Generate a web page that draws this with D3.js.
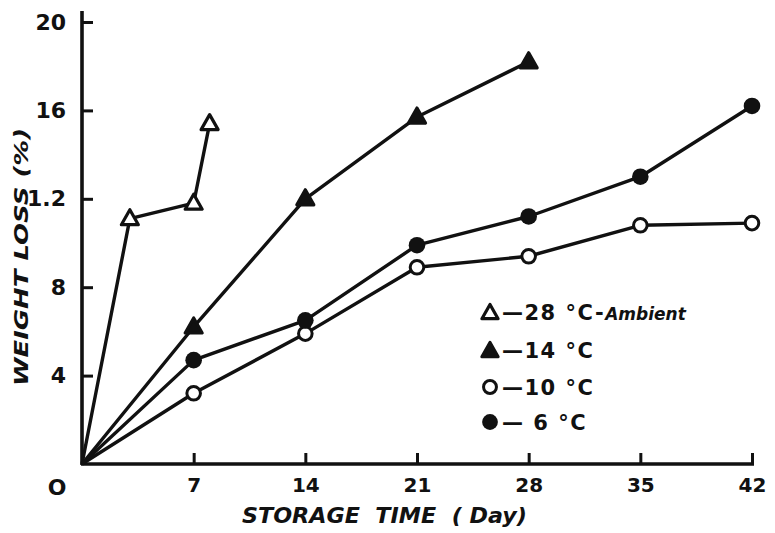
<!DOCTYPE html>
<html>
<head>
<meta charset="utf-8">
<script src="https://cdn.jsdelivr.net/npm/d3@7"></script>
<style>
  html, body { margin: 0; padding: 0; background: #fff; }
  svg { display: block; }
  text { font-family: "DejaVu Sans", sans-serif; font-weight: bold; fill: #111; }
</style>
</head>
<body>
<svg id="chart" width="775" height="533"></svg>
<script>
// Storage time (days) and weight loss (%) for each storage temperature
const daysAmbient = [0, 3, 7, 8];
const lossAmbient = [0, 11.1, 11.8, 15.4];

const days14 = [0, 7, 14, 21, 28];
const loss14 = [0, 6.2, 12.0, 15.7, 18.2];

const days10 = [0, 7, 14, 21, 28, 35, 42];
const loss10 = [0, 3.2, 5.9, 8.9, 9.4, 10.8, 10.9];

const days6 = [0, 7, 14, 21, 28, 35, 42];
const loss6 = [0, 4.7, 6.5, 9.9, 11.2, 13.0, 16.2];

const xTickValues = [7, 14, 21, 28, 35, 42];
const xTickLabels = ["7", "14", "21", "28", "35", "42"];
const yTickValues = [4, 8, 12, 16, 20];
const yTickLabels = ["4", "8", "1.2", "16", "20"];
const originLabel = "O";

const legendMarkers = ["openTri", "fillTri", "openCirc", "fillCirc"];
const legendLabels = ["\u201428 \u00b0C-", "\u201414 \u00b0C", "\u201410 \u00b0C", "\u2014 6 \u00b0C"];
const legendSuffix = ["Ambient", "", "", ""];

const xTitle = "STORAGE  TIME  ( Day)";
const yTitle = "WEIGHT LOSS (%)";

const svg = d3.select("#chart");
const ink = "#111";

const x = d3.scaleLinear().domain([0, 42]).range([82, 752]);
const y = d3.scaleLinear().domain([0, 20]).range([464, 22]);

// Axes: ticks point into the plot
const yAxis = d3.axisLeft(y)
  .tickValues(yTickValues)
  .tickFormat((d, i) => yTickLabels[i])
  .tickSizeInner(-11)
  .tickSizeOuter(0)
  .tickPadding(16);

const yG = svg.append("g").attr("transform", `translate(${x(0)},0)`).call(yAxis);
yG.select(".domain").remove();
yG.selectAll(".tick line").attr("stroke", ink).attr("stroke-width", 3);
yG.selectAll(".tick text")
  .style("font-family", "'DejaVu Sans', sans-serif")
  .style("font-weight", "bold")
  .style("font-size", "22px")
  .attr("fill", ink);

const xAxis = d3.axisBottom(x)
  .tickValues(xTickValues)
  .tickFormat((d, i) => xTickLabels[i])
  .tickSizeInner(-11)
  .tickSizeOuter(0)
  .tickPadding(14);

const xG = svg.append("g").attr("transform", `translate(0,${y(0)})`).call(xAxis);
xG.select(".domain").remove();
xG.selectAll(".tick line").attr("stroke", ink).attr("stroke-width", 3);
xG.selectAll(".tick text")
  .style("font-family", "'DejaVu Sans', sans-serif")
  .style("font-weight", "bold")
  .style("font-size", "20px")
  .attr("fill", ink);

// Axis lines
svg.append("line")
  .attr("x1", x(0)).attr("x2", x(0))
  .attr("y1", y(0) + 1).attr("y2", 11)
  .attr("stroke", ink).attr("stroke-width", 3.6);
svg.append("line")
  .attr("x1", x(0) - 1).attr("x2", x(42) + 2)
  .attr("y1", y(0)).attr("y2", y(0))
  .attr("stroke", ink).attr("stroke-width", 3.4);

// Origin label, set off to the lower left of the corner
svg.append("text")
  .attr("x", x(0) - 25).attr("y", y(0) + 31)
  .attr("text-anchor", "middle")
  .style("font-size", "22px")
  .text(originLabel);

// Series
const series = [
  { days: daysAmbient, loss: lossAmbient, marker: "openTri" },
  { days: days14, loss: loss14, marker: "fillTri" },
  { days: days10, loss: loss10, marker: "openCirc" },
  { days: days6, loss: loss6, marker: "fillCirc" }
];

const line = d3.line().x(d => x(d[0])).y(d => y(d[1]));

function drawMarker(g, kind, cx, cy, scale) {
  const s = scale || 1;
  if (kind === "openTri" || kind === "fillTri") {
    const half = 8.5 * s, h = 15 * s;
    const p = d3.path();
    p.moveTo(cx, cy - h * 0.6);
    p.lineTo(cx + half, cy + h * 0.4);
    p.lineTo(cx - half, cy + h * 0.4);
    p.closePath();
    g.append("path").attr("d", p.toString())
      .attr("fill", kind === "fillTri" ? ink : "#fff")
      .attr("stroke", ink).attr("stroke-width", 3.2)
      .attr("stroke-linejoin", "round");
  } else {
    const r = (kind === "fillCirc" ? 8.3 : 6.8) * s;
    g.append("circle").attr("cx", cx).attr("cy", cy).attr("r", r)
      .attr("fill", kind === "fillCirc" ? ink : "#fff")
      .attr("stroke", ink).attr("stroke-width", kind === "fillCirc" ? 0 : 3);
  }
}

series.forEach(s => {
  const pts = s.days.map((d, i) => [d, s.loss[i]]);
  svg.append("path").datum(pts)
    .attr("d", line)
    .attr("fill", "none")
    .attr("stroke", ink)
    .attr("stroke-width", 3.4)
    .attr("stroke-linejoin", "round");
});

series.forEach(s => {
  const g = svg.append("g");
  s.days.forEach((d, i) => {
    if (i === 0) return;
    drawMarker(g, s.marker, x(d), y(s.loss[i]), 1);
  });
});

// Legend
const legendRows = [312, 350, 387, 422];
legendMarkers.forEach((m, i) => {
  const g = svg.append("g");
  drawMarker(g, m, 490, legendRows[i] + (m.indexOf("Tri") >= 0 ? 1 : 0), 0.95);
  const t = g.append("text")
    .attr("x", 502).attr("y", legendRows[i] + 8)
    .style("font-size", "21px")
    .style("letter-spacing", "1.5px")
    .attr("xml:space", "preserve")
    .text(legendLabels[i]);
  if (legendSuffix[i]) {
    t.append("tspan")
      .style("font-size", "17px")
      .style("font-style", "italic")
      .style("letter-spacing", "0px")
      .text(legendSuffix[i]);
  }
});

// Axis titles
svg.append("text")
  .attr("x", 242).attr("y", 523)
  .style("font-size", "21px")
  .style("font-style", "italic")
  .attr("textLength", 285)
  .attr("lengthAdjust", "spacingAndGlyphs")
  .attr("xml:space", "preserve")
  .text(xTitle);

svg.append("text")
  .attr("transform", "translate(28,386) rotate(-90)")
  .style("font-size", "19px")
  .style("font-style", "italic")
  .attr("textLength", 258)
  .attr("lengthAdjust", "spacingAndGlyphs")
  .text(yTitle);
</script>
</body>
</html>
